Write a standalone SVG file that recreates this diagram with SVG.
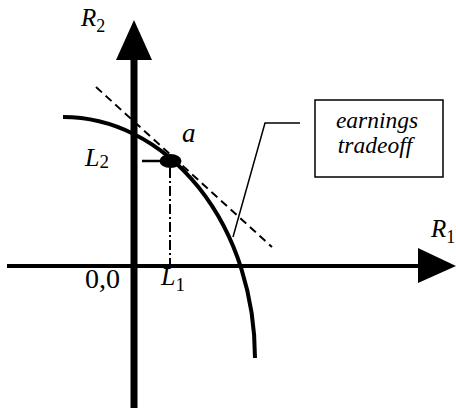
<svg xmlns="http://www.w3.org/2000/svg" width="456" height="410" viewBox="0 0 456 410">
<style>
.lbl{font-family:"Liberation Serif","Times New Roman",serif;fill:#000}
.it{font-style:italic}
.ax{stroke:#000;fill:none}
</style>
<rect width="456" height="410" fill="#fff"/>
<g id="axes">
<line class="ax" x1="7" y1="266" x2="420" y2="266" stroke-width="4"/>
<polygon points="456,266 418,248 418,283" fill="#000"/>
<line class="ax" x1="134" y1="55" x2="134" y2="408" stroke-width="7"/>
<polygon points="134,20 116,60 152,60" fill="#000"/>
</g>
<g id="curve">
<path d="M63,117 A192,241 0 0 1 255,358" fill="none" stroke="#000" stroke-width="4"/>
</g>
<g id="connectors">
<line x1="96" y1="87" x2="272" y2="247" stroke="#000" stroke-width="2" stroke-dasharray="8,5"/>
<line x1="142" y1="161" x2="160" y2="161" stroke="#000" stroke-width="2.5"/>
<line x1="170" y1="168" x2="170" y2="265" stroke="#000" stroke-width="2" stroke-dasharray="10,3,2,3"/>
<polyline points="300,123 265,123 233,237" fill="none" stroke="#000" stroke-width="1.5"/>
</g>
<g id="point-a">
<ellipse cx="170.5" cy="161" rx="11" ry="7" fill="#000"/>
<text class="lbl it" x="182" y="142" font-size="27">a</text>
</g>
<g id="box">
<rect x="315" y="100" width="128" height="77" fill="#fff" stroke="#000" stroke-width="1.5"/>
<text class="lbl it" x="377" y="128" font-size="23.5" text-anchor="middle">earnings</text>
<text class="lbl it" x="375" y="153" font-size="23.5" text-anchor="middle">tradeoff</text>
</g>
<g id="labels">
<text class="lbl it" x="81" y="26" font-size="25">R<tspan font-style="normal" font-size="18" dy="6">2</tspan></text>
<text class="lbl it" x="85" y="166" font-size="26">L<tspan font-style="normal" font-size="19" dy="2">2</tspan></text>
<text class="lbl" x="85" y="288" font-size="28">0,0</text>
<text class="lbl it" x="161" y="285" font-size="26">L<tspan font-style="normal" font-size="19" dy="6">1</tspan></text>
<text class="lbl it" x="431" y="237" font-size="25">R<tspan font-style="normal" font-size="18" dy="6">1</tspan></text>
</g>
</svg>
